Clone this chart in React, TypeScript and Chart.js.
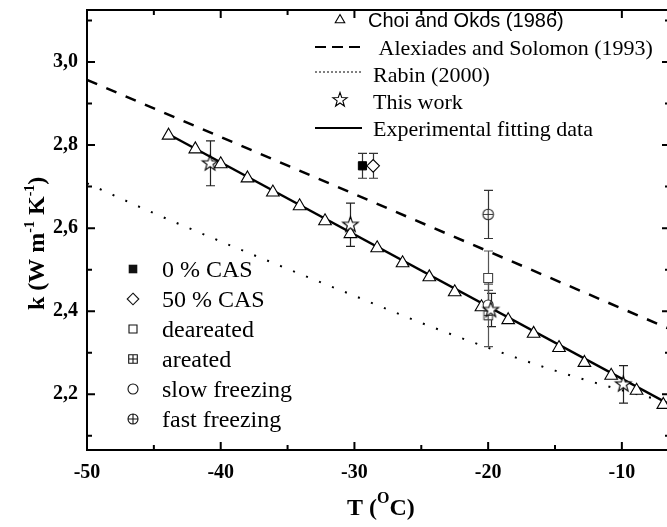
import React, { useEffect, useRef } from 'react';
import { Chart, registerables } from 'chart.js';

Chart.register(...registerables);

// ---------- data ----------
const choiT = [-43.9, -41.9, -40.0, -38.0, -36.1, -34.1, -32.2, -30.3, -28.3, -26.4, -24.4, -22.5, -20.5, -18.5, -16.6, -14.7, -12.8, -10.8, -8.9, -6.9];
const choiK = [2.823, 2.790, 2.754, 2.720, 2.686, 2.653, 2.617, 2.586, 2.552, 2.516, 2.482, 2.446, 2.410, 2.379, 2.346, 2.312, 2.276, 2.245, 2.209, 2.175];

const fitT = [-43.9, -6.4];
const fitK = [2.826, 2.175];

const alexT = [-50, -6.4];
const alexK = [2.957, 2.357];

const rabinT = [-50, -45, -40, -35, -30, -25, -20, -15, -10, -6.4];
const rabinK = [2.708, 2.636, 2.568, 2.502, 2.437, 2.372, 2.312, 2.257, 2.210, 2.180];

const workT = [-40.8, -30.3, -19.8, -9.9];
const workK = [2.756, 2.608, 2.403, 2.224];
const workErr = [0.054, 0.052, 0.04, 0.045];

const cas0T = [-29.4];
const cas0K = [2.75];
const cas0Err = [0.03];

const cas50T = [-28.6];
const cas50K = [2.75];
const cas50Err = [0.03];

const deaT = [-20];
const deaK = [2.48];
const deaErr = [0.065];

const areT = [-20];
const areK = [2.39];
const areErr = [0.075];

const slowT = [-20];
const slowK = [2.415];
const slowErr = [0.035];

const fastT = [-20];
const fastK = [2.633];
const fastErr = [0.058];

const xMajor = [-50, -40, -30, -20, -10];
const xLabels = ['-50', '-40', '-30', '-20', '-10'];
const yMajor = [2.2, 2.4, 2.6, 2.8, 3.0];
const yLabels = ['2,2', '2,4', '2,6', '2,8', '3,0'];

const upperLegend = ['Choi and Okos (1986)', ' Alexiades and Solomon (1993)', 'Rabin (2000)', 'This work', 'Experimental fitting data'];
const lowerLegend = ['0 % CAS', '50 % CAS', 'deareated', 'areated', 'slow freezing', 'fast freezing'];

const xTitleParts = ['T (', 'O', 'C)'];
const yTitleParts = ['k (W m', '-1', ' K', '-1', ')'];

// ---------- helpers ----------
const SERIF = '"Liberation Serif", "Times New Roman", serif';
const SANS = '"Liberation Sans", Arial, sans-serif';

const pts = (xs: number[], ys: number[]) => xs.map((x, i) => ({ x, y: ys[i] }));

function starPath(ctx: CanvasRenderingContext2D, cx: number, cy: number, R: number, r: number) {
  ctx.beginPath();
  for (let i = 0; i < 10; i++) {
    const a = -Math.PI / 2 + (i * Math.PI) / 5;
    const rad = i % 2 === 0 ? R : r;
    const x = cx + rad * Math.cos(a);
    const y = cy + rad * Math.sin(a);
    if (i === 0) ctx.moveTo(x, y);
    else ctx.lineTo(x, y);
  }
  ctx.closePath();
}

function drawShape(ctx: CanvasRenderingContext2D, kind: string, cx: number, cy: number, s: number, color: string) {
  ctx.save();
  ctx.lineWidth = 1.1;
  ctx.strokeStyle = color;
  ctx.fillStyle = '#fff';
  if (kind === 'star') {
    starPath(ctx, cx, cy, s, s * 0.4);
    ctx.fill();
    ctx.stroke();
  } else if (kind === 'triangle') {
    ctx.beginPath();
    ctx.moveTo(cx, cy - s);
    ctx.lineTo(cx + s * 0.866, cy + s * 0.5);
    ctx.lineTo(cx - s * 0.866, cy + s * 0.5);
    ctx.closePath();
    ctx.fill();
    ctx.stroke();
  } else if (kind === 'fsquare') {
    ctx.fillStyle = color;
    ctx.fillRect(cx - s, cy - s, 2 * s, 2 * s);
  } else if (kind === 'square') {
    ctx.beginPath();
    ctx.rect(cx - s, cy - s, 2 * s, 2 * s);
    ctx.fill();
    ctx.stroke();
  } else if (kind === 'diamond') {
    ctx.beginPath();
    ctx.moveTo(cx, cy - s);
    ctx.lineTo(cx + s, cy);
    ctx.lineTo(cx, cy + s);
    ctx.lineTo(cx - s, cy);
    ctx.closePath();
    ctx.fill();
    ctx.stroke();
  } else if (kind === 'squareplus') {
    ctx.beginPath();
    ctx.rect(cx - s, cy - s, 2 * s, 2 * s);
    ctx.fill();
    ctx.moveTo(cx - s, cy);
    ctx.lineTo(cx + s, cy);
    ctx.moveTo(cx, cy - s);
    ctx.lineTo(cx, cy + s);
    ctx.stroke();
  } else if (kind === 'circle') {
    ctx.beginPath();
    ctx.arc(cx, cy, s, 0, Math.PI * 2);
    ctx.fill();
    ctx.stroke();
  } else if (kind === 'circleplus') {
    ctx.beginPath();
    ctx.arc(cx, cy, s, 0, Math.PI * 2);
    ctx.fill();
    ctx.moveTo(cx - s, cy);
    ctx.lineTo(cx + s, cy);
    ctx.moveTo(cx, cy - s);
    ctx.lineTo(cx, cy + s);
    ctx.stroke();
  }
  ctx.restore();
}

function makeMarker(kind: string, s: number, color: string) {
  const size = Math.ceil(s * 2 + 4);
  const c = document.createElement('canvas');
  c.width = size;
  c.height = size;
  const ctx = c.getContext('2d')!;
  drawShape(ctx, kind, size / 2, size / 2, s, color);
  return c;
}

const errorBarPlugin = {
  id: 'errbars',
  beforeDatasetsDraw(chart: any) {
    const ctx = chart.ctx;
    const ys = chart.scales.y;
    chart.data.datasets.forEach((ds: any, i: number) => {
      const errs = ds.errs;
      if (!errs) return;
      const meta = chart.getDatasetMeta(i);
      ctx.save();
      ctx.strokeStyle = ds.errColor || '#333';
      ctx.lineWidth = 1.2;
      meta.data.forEach((pt: any, j: number) => {
        const d = ds.data[j];
        const e = errs[j];
        const x = Math.round(pt.x) + 0.5;
        const y1 = ys.getPixelForValue(d.y + e);
        const y2 = ys.getPixelForValue(d.y - e);
        ctx.beginPath();
        ctx.moveTo(x, y1);
        ctx.lineTo(x, y2);
        ctx.moveTo(x - 4.5, y1);
        ctx.lineTo(x + 4.5, y1);
        ctx.moveTo(x - 4.5, y2);
        ctx.lineTo(x + 4.5, y2);
        ctx.stroke();
      });
      ctx.restore();
    });
  },
};

const framePlugin = {
  id: 'frame',
  afterDraw(chart: any) {
    const ctx = chart.ctx;
    const a = chart.chartArea;
    const xs = chart.scales.x;
    const ys = chart.scales.y;
    ctx.save();
    ctx.strokeStyle = '#000';
    ctx.lineWidth = 2;
    ctx.strokeRect(a.left, a.top, a.right - a.left, a.bottom - a.top);
    ctx.beginPath();
    xs.ticks.forEach((t: any) => {
      const major = xMajor.some((v) => Math.abs(v - t.value) < 1e-6);
      const L = major ? 8 : 5;
      const x = xs.getPixelForValue(t.value);
      ctx.moveTo(x, a.bottom);
      ctx.lineTo(x, a.bottom - L);
      ctx.moveTo(x, a.top);
      ctx.lineTo(x, a.top + L);
    });
    ys.ticks.forEach((t: any) => {
      const major = yMajor.some((v) => Math.abs(v - t.value) < 1e-6);
      const L = major ? 8 : 5;
      const y = ys.getPixelForValue(t.value);
      ctx.moveTo(a.left, y);
      ctx.lineTo(a.left + L, y);
      ctx.moveTo(a.right, y);
      ctx.lineTo(a.right - L, y);
    });
    ctx.stroke();

    // axis titles
    ctx.fillStyle = '#000';
    ctx.textBaseline = 'alphabetic';
    ctx.textAlign = 'left';
    let x = 347;
    ctx.font = `bold 24px ${SERIF}`;
    ctx.fillText(xTitleParts[0], x, 515);
    x += ctx.measureText(xTitleParts[0]).width;
    ctx.font = `bold 16px ${SERIF}`;
    ctx.fillText(xTitleParts[1], x, 503);
    x += ctx.measureText(xTitleParts[1]).width;
    ctx.font = `bold 24px ${SERIF}`;
    ctx.fillText(xTitleParts[2], x, 515);

    ctx.save();
    ctx.translate(44, 310);
    ctx.rotate(-Math.PI / 2);
    let p = 0;
    yTitleParts.forEach((part, i) => {
      const sup = i === 1 || i === 3;
      ctx.font = sup ? `bold 14px ${SERIF}` : `bold 24px ${SERIF}`;
      ctx.fillText(part, p, sup ? -10 : 0);
      p += ctx.measureText(part).width;
    });
    ctx.restore();

    // upper legend
    const uy = [19, 47, 72, 100, 128];
    const ub = [27, 54.5, 81.5, 108.5, 136];
    const ux = [368, 373, 373, 373, 373];
    drawShape(ctx, 'triangle', 340, uy[0] + 1, 5.5, '#000');
    ctx.save();
    ctx.lineWidth = 2.2;
    ctx.setLineDash([11, 6]);
    ctx.beginPath();
    ctx.moveTo(315, uy[1]);
    ctx.lineTo(362, uy[1]);
    ctx.stroke();
    ctx.lineWidth = 1;
    ctx.setLineDash([2, 2]);
    ctx.beginPath();
    ctx.moveTo(315, uy[2]);
    ctx.lineTo(362, uy[2]);
    ctx.stroke();
    ctx.setLineDash([]);
    ctx.lineWidth = 2.2;
    ctx.beginPath();
    ctx.moveTo(315, uy[4]);
    ctx.lineTo(362, uy[4]);
    ctx.stroke();
    ctx.restore();
    drawShape(ctx, 'star', 340, uy[3], 7.5, '#000');
    upperLegend.forEach((t, i) => {
      ctx.font = i === 0 ? `20px ${SANS}` : `22px ${SERIF}`;
      ctx.fillText(t, ux[i], ub[i]);
    });

    // lower legend
    const ly = [269, 299, 329, 359, 389, 419];
    const kinds = ['fsquare', 'diamond', 'square', 'squareplus', 'circle', 'circleplus'];
    const sizes = [4.3, 5.8, 4, 4.3, 5, 5];
    ctx.font = `24px ${SERIF}`;
    lowerLegend.forEach((t, i) => {
      drawShape(ctx, kinds[i], 133, ly[i], sizes[i], '#111');
      ctx.fillStyle = '#000';
      ctx.fillText(t, 162, ly[i] + 7.5);
    });
    ctx.restore();
  },
};

export default function App() {
  const ref = useRef<HTMLCanvasElement | null>(null);

  useEffect(() => {
    if (!ref.current) return;
    const starImg = makeMarker('star', 8.2, '#000');
    const sqPlusImg = makeMarker('squareplus', 4.3, '#444');
    const circPlusImg = makeMarker('circleplus', 5.3, '#333');

    const chart = new Chart(ref.current, {
      type: 'scatter',
      data: {
        datasets: [
          { label: 'This work', data: pts(workT, workK), pointStyle: starImg as any, pointRadius: 9, showLine: false, errs: workErr, errColor: '#222' } as any,
          { label: '0 % CAS', data: pts(cas0T, cas0K), pointStyle: 'rect', pointRadius: 5.8, backgroundColor: '#000', borderColor: '#000', borderWidth: 1, errs: cas0Err, errColor: '#333' } as any,
          { label: '50 % CAS', data: pts(cas50T, cas50K), pointStyle: 'rectRot', pointRadius: 6.3, backgroundColor: '#fff', borderColor: '#000', borderWidth: 1.1, errs: cas50Err, errColor: '#333' } as any,
          { label: 'slow freezing', data: pts(slowT, slowK), pointStyle: 'circle', pointRadius: 5, backgroundColor: '#fff', borderColor: '#333', borderWidth: 1.1, errs: slowErr, errColor: '#555' } as any,
          { label: 'areated', data: pts(areT, areK), pointStyle: sqPlusImg as any, pointRadius: 5, errs: areErr, errColor: '#555' } as any,
          { label: 'deareated', data: pts(deaT, deaK), pointStyle: 'rect', pointRadius: 6.3, backgroundColor: '#fff', borderColor: '#444', borderWidth: 1.1, errs: deaErr, errColor: '#555' } as any,
          { label: 'fast freezing', data: pts(fastT, fastK), pointStyle: circPlusImg as any, pointRadius: 6, errs: fastErr, errColor: '#333' } as any,
          { label: 'Choi and Okos (1986)', data: pts(choiT, choiK), pointStyle: 'triangle', pointRadius: 7.3, backgroundColor: '#fff', borderColor: '#000', borderWidth: 1.1, showLine: false } as any,
          { label: 'Experimental fitting data', data: pts(fitT, fitK), showLine: true, pointRadius: 0, borderColor: '#000', borderWidth: 2.4 } as any,
          { label: 'Alexiades and Solomon (1993)', data: pts(alexT, alexK), showLine: true, pointRadius: 0, borderColor: '#000', borderWidth: 2.5, borderDash: [11, 10] } as any,
          { label: 'Rabin (2000)', data: pts(rabinT, rabinK), showLine: true, pointRadius: 0, borderColor: '#000', borderWidth: 2, borderDash: [2, 12], cubicInterpolationMode: 'monotone' } as any,
        ],
      },
      options: {
        animation: false,
        responsive: false,
        events: [],
        layout: { autoPadding: false, padding: { top: 10, right: 2, left: 0, bottom: 0 } },
        plugins: { legend: { display: false }, tooltip: { enabled: false }, title: { display: false } },
        scales: {
          x: {
            type: 'linear',
            min: -50,
            max: -6.4,
            grid: { display: false, drawTicks: false },
            border: { display: false },
            ticks: {
              stepSize: 5,
              autoSkip: false,
              includeBounds: false,
              maxRotation: 0,
              padding: 11,
              color: '#000',
              font: { family: SERIF, size: 20, weight: 'bold' },
              callback: (v: any) => {
                const i = xMajor.findIndex((m) => Math.abs(m - Number(v)) < 1e-6);
                return i >= 0 ? xLabels[i] : '';
              },
            },
            afterFit: (s: any) => {
              s.height = 77;
              s.paddingLeft = 0;
              s.paddingRight = 0;
            },
          },
          y: {
            type: 'linear',
            min: 2.066,
            max: 3.125,
            grid: { display: false, drawTicks: false },
            border: { display: false },
            ticks: {
              stepSize: 0.1,
              autoSkip: false,
              includeBounds: false,
              padding: 9,
              color: '#000',
              font: { family: SERIF, size: 20, weight: 'bold' },
              callback: (v: any) => {
                const i = yMajor.findIndex((m) => Math.abs(m - Number(v)) < 1e-6);
                return i >= 0 ? yLabels[i] : '';
              },
            },
            afterFit: (s: any) => {
              s.width = 87;
              s.paddingTop = 0;
              s.paddingBottom = 0;
            },
          },
        },
      } as any,
      plugins: [errorBarPlugin, framePlugin],
    });
    return () => chart.destroy();
  }, []);

  return (
    <div style={{ position: 'fixed', left: 0, top: 0, width: 667, height: 527, overflow: 'hidden', background: '#fff' }}>
      <canvas ref={ref} width={672} height={527} style={{ display: 'block', width: 672, height: 527 }} />
    </div>
  );
}
